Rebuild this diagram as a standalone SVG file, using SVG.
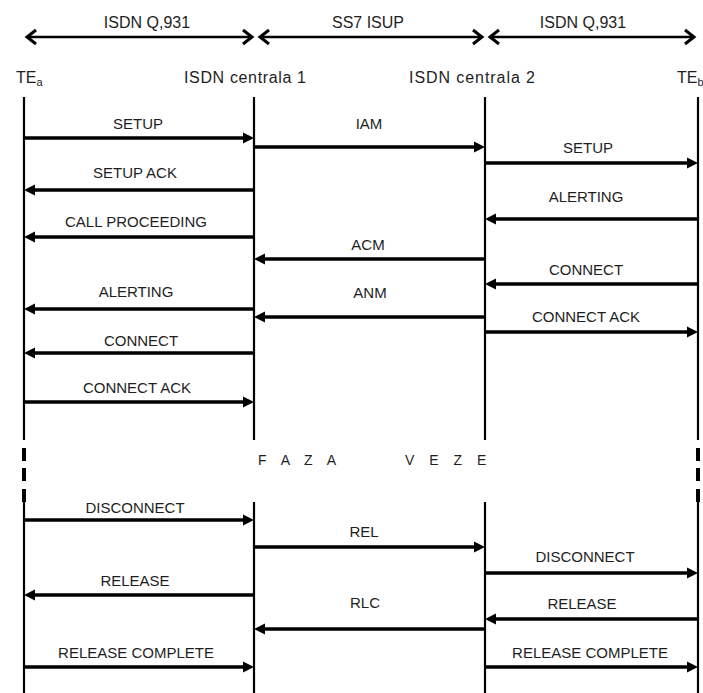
<svg xmlns="http://www.w3.org/2000/svg" width="703" height="693" viewBox="0 0 703 693">
<defs>
<style>
text{font-family:"Liberation Sans",Arial,sans-serif;fill:#1e1e1e;font-size:15px;text-anchor:middle}
.life{stroke:#000;stroke-width:2.2;fill:none}
.dash{stroke:#000;stroke-width:4;fill:none}
.msg{stroke:#000;stroke-width:3.5;fill:none;marker-end:url(#ah)}
.span{stroke:#000;stroke-width:2.6;fill:none;marker-start:url(#chev);marker-end:url(#chev)}
.hdr{font-size:16px}
.phase{font-size:14px;letter-spacing:5.5px;text-anchor:start}
</style>
<marker id="ah" markerUnits="userSpaceOnUse" markerWidth="14" markerHeight="14" refX="3" refY="5.5" orient="auto" overflow="visible">
<path d="M0,0 L11,5.5 L0,11 z" fill="#000"/>
</marker>
<marker id="chev" markerUnits="userSpaceOnUse" markerWidth="16" markerHeight="18" refX="9" refY="7" orient="auto-start-reverse" overflow="visible">
<path d="M0,0 L9,7 L0,14" fill="none" stroke="#000" stroke-width="3"/>
</marker>
</defs>
<rect width="703" height="693" fill="#fff"/>

<g id="protocols">
<line class="span" x1="27" y1="37" x2="252" y2="37"/>
<line class="span" x1="260" y1="37" x2="482" y2="37"/>
<line class="span" x1="490" y1="37" x2="694" y2="37"/>
<text class="hdr" x="147" y="28">ISDN Q,931</text>
<text class="hdr" x="368" y="28">SS7 ISUP</text>
<text class="hdr" x="583" y="28">ISDN Q,931</text>
</g>

<g id="node-tea">
<text x="16" y="83" style="text-anchor:start;font-size:16px">TE<tspan font-size="11" dy="3">a</tspan></text>
<line class="life" x1="24" y1="97" x2="24" y2="440"/>
<line class="dash" x1="24" y1="448" x2="24" y2="461"/>
<line class="dash" x1="24" y1="468" x2="24" y2="481"/>
<line class="dash" x1="24" y1="489" x2="24" y2="502"/>
<line class="life" x1="24" y1="502" x2="24" y2="693"/>
</g>

<g id="node-c1">
<text x="245" y="83" style="font-size:16px" textLength="122" lengthAdjust="spacing">ISDN centrala 1</text>
<line class="life" x1="254" y1="97" x2="254" y2="440"/>
<line class="life" x1="254" y1="502" x2="254" y2="693"/>
</g>

<g id="node-c2">
<text x="472" y="83" style="font-size:16px" textLength="126" lengthAdjust="spacing">ISDN centrala 2</text>
<line class="life" x1="485" y1="97" x2="485" y2="440"/>
<line class="life" x1="485" y1="502" x2="485" y2="693"/>
</g>

<g id="node-teb">
<text x="677" y="83" style="text-anchor:start;font-size:16px">TE<tspan font-size="11" dy="3">b</tspan></text>
<line class="life" x1="698" y1="97" x2="698" y2="440"/>
<line class="dash" x1="698" y1="448" x2="698" y2="461"/>
<line class="dash" x1="698" y1="468" x2="698" y2="481"/>
<line class="dash" x1="698" y1="489" x2="698" y2="502"/>
<line class="life" x1="698" y1="502" x2="698" y2="693"/>
</g>

<g id="phase">
<text class="phase" x="258" y="465">F A Z A</text>
<text class="phase" x="405" y="465">V E Z E</text>
</g>

<g id="connectors">
<line class="msg" x1="24" y1="138" x2="246" y2="138"/>
<line class="msg" x1="254" y1="147" x2="477" y2="147"/>
<line class="msg" x1="485" y1="163" x2="690" y2="163"/>
<line class="msg" x1="254" y1="190" x2="32" y2="190"/>
<line class="msg" x1="698" y1="219" x2="493" y2="219"/>
<line class="msg" x1="254" y1="237" x2="32" y2="237"/>
<line class="msg" x1="485" y1="259" x2="262" y2="259"/>
<line class="msg" x1="698" y1="284" x2="493" y2="284"/>
<line class="msg" x1="254" y1="309" x2="32" y2="309"/>
<line class="msg" x1="485" y1="317" x2="262" y2="317"/>
<line class="msg" x1="485" y1="332" x2="690" y2="332"/>
<line class="msg" x1="254" y1="353" x2="32" y2="353"/>
<line class="msg" x1="24" y1="402" x2="246" y2="402"/>
<line class="msg" x1="24" y1="520" x2="246" y2="520"/>
<line class="msg" x1="254" y1="547" x2="477" y2="547"/>
<line class="msg" x1="485" y1="573" x2="690" y2="573"/>
<line class="msg" x1="254" y1="595" x2="32" y2="595"/>
<line class="msg" x1="698" y1="619" x2="493" y2="619"/>
<line class="msg" x1="485" y1="629" x2="262" y2="629"/>
<line class="msg" x1="24" y1="667" x2="246" y2="667"/>
<line class="msg" x1="485" y1="667" x2="690" y2="667"/>
</g>

<g id="labels">
<text x="138" y="129">SETUP</text>
<text x="369" y="129">IAM</text>
<text x="588" y="153">SETUP</text>
<text x="135" y="178">SETUP ACK</text>
<text x="586" y="202">ALERTING</text>
<text x="136" y="227">CALL PROCEEDING</text>
<text x="368" y="250">ACM</text>
<text x="586" y="275">CONNECT</text>
<text x="136" y="297">ALERTING</text>
<text x="370" y="298">ANM</text>
<text x="586" y="322">CONNECT ACK</text>
<text x="141" y="346">CONNECT</text>
<text x="137" y="393">CONNECT ACK</text>
<text x="135" y="513">DISCONNECT</text>
<text x="364" y="537">REL</text>
<text x="585" y="562">DISCONNECT</text>
<text x="135" y="586">RELEASE</text>
<text x="582" y="609">RELEASE</text>
<text x="365" y="608">RLC</text>
<text x="136" y="658">RELEASE COMPLETE</text>
<text x="590" y="658">RELEASE COMPLETE</text>
</g>
</svg>
